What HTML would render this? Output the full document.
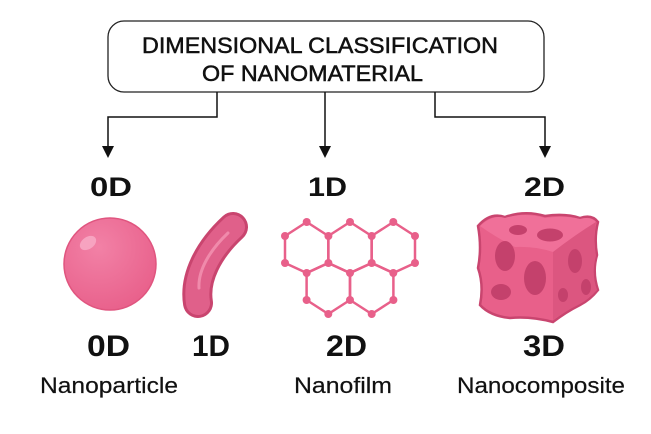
<!DOCTYPE html>
<html><head><meta charset="utf-8"><style>
html,body{margin:0;padding:0;background:#fff;}
svg{display:block;}
text{font-family:"Liberation Sans",sans-serif;fill:#111;}
</style></head><body>
<svg width="651" height="434" viewBox="0 0 651 434" xmlns="http://www.w3.org/2000/svg">
<defs>
<radialGradient id="sph" cx="0.38" cy="0.32" r="0.75">
<stop offset="0" stop-color="#f281a6"/><stop offset="1" stop-color="#e85f8a"/>
</radialGradient>
</defs>
<rect x="108" y="21" width="436" height="71" rx="16" fill="#fff" stroke="#222" stroke-width="1.3"/>
<g stroke="#111" stroke-width="0.5">
<text x="142" y="53" font-size="22" textLength="356" lengthAdjust="spacingAndGlyphs">DIMENSIONAL CLASSIFICATION</text>
<text x="202" y="81" font-size="22" textLength="221" lengthAdjust="spacingAndGlyphs">OF NANOMATERIAL</text>
</g>
<g stroke="#111" stroke-width="1.5" fill="none">
<polyline points="217,92 217,117 108,117 108,148"/>
<line x1="325" y1="92" x2="325" y2="148"/>
<polyline points="435,92 435,117 545,117 545,148"/>
</g>
<g fill="#111">
<path d="M102,146 L114,146 L108,158 Z"/>
<path d="M319,146 L331,146 L325,158 Z"/>
<path d="M539,146 L551,146 L545,158 Z"/>
</g>
<g font-weight="bold" font-size="27">
<text x="90" y="196" textLength="42" lengthAdjust="spacingAndGlyphs">0D</text>
<text x="308" y="196" textLength="39" lengthAdjust="spacingAndGlyphs">1D</text>
<text x="524" y="196" textLength="41" lengthAdjust="spacingAndGlyphs">2D</text>
<text x="87" y="356" font-size="30" textLength="43" lengthAdjust="spacingAndGlyphs">0D</text>
<text x="192" y="356" font-size="30" textLength="38" lengthAdjust="spacingAndGlyphs">1D</text>
<text x="326" y="356" font-size="30" textLength="41" lengthAdjust="spacingAndGlyphs">2D</text>
<text x="523" y="356" font-size="30" textLength="42" lengthAdjust="spacingAndGlyphs">3D</text>
</g>
<g font-size="22" stroke="#111" stroke-width="0.2">
<text x="40" y="393" textLength="138" lengthAdjust="spacingAndGlyphs">Nanoparticle</text>
<text x="294" y="393" textLength="98" lengthAdjust="spacingAndGlyphs">Nanofilm</text>
<text x="457" y="393" textLength="168" lengthAdjust="spacingAndGlyphs">Nanocomposite</text>
</g>
<!-- sphere -->
<ellipse cx="110" cy="264" rx="46" ry="46" fill="url(#sph)" stroke="#e0557f" stroke-width="1.5"/>
<ellipse cx="88" cy="243" rx="9" ry="6" fill="#f7a3c0" transform="rotate(-35 88 243)"/>
<!-- rod -->
<path d="M198,303 C194,278 208,250 233,227" stroke="#c9456f" stroke-width="30" stroke-linecap="round" fill="none"/>
<path d="M198,303 C194,278 208,250 233,227" stroke="#e0608a" stroke-width="24" stroke-linecap="round" fill="none"/>
<path d="M199,288 C198,270 210,250 228,233" stroke="#f08aab" stroke-width="3" stroke-linecap="round" fill="none"/>
<!-- hex lattice -->
<g stroke="#e8608a" stroke-width="2.5" fill="none" stroke-linejoin="round">
<polygon points="306.7,222 328.4,236 328.4,263 306.7,273 285,263 285,236"/>
<polygon points="350,222 371.7,236 371.7,263 350,273 328.3,263 328.3,236"/>
<polygon points="393.3,222 415,236 415,263 393.3,273 371.6,263 371.6,236"/>
<polygon points="328.3,263 350,273 350,300 328.3,314 306.6,300 306.6,273"/>
<polygon points="371.7,263 393.4,273 393.4,300 371.7,314 350,300 350,273"/>
</g>
<g fill="#e8608a">
<circle cx="306.7" cy="222" r="4"/><circle cx="350" cy="222" r="4"/><circle cx="393.3" cy="222" r="4"/>
<circle cx="285" cy="236" r="4"/><circle cx="328.4" cy="236" r="4"/><circle cx="371.7" cy="236" r="4"/><circle cx="415" cy="236" r="4"/>
<circle cx="285" cy="263" r="4"/><circle cx="328.4" cy="263" r="4"/><circle cx="371.7" cy="263" r="4"/><circle cx="415" cy="263" r="4"/>
<circle cx="306.7" cy="273" r="4"/><circle cx="350" cy="273" r="4"/><circle cx="393.3" cy="273" r="4"/>
<circle cx="306.6" cy="300" r="4"/><circle cx="350" cy="300" r="4"/><circle cx="393.4" cy="300" r="4"/>
<circle cx="328.3" cy="314" r="4"/><circle cx="371.7" cy="314" r="4"/>
</g>
<!-- cube -->
<path d="M478,226 Q490,212 505,217 Q525,210 545,216 Q565,213 580,218 Q592,214 598,222 Q594,238 597,255 Q592,272 598,290 Q590,300 580,305 Q566,312 553,322 Q530,316 510,318 Q490,316 480,305 Q484,285 478,268 Q482,248 478,226 Z" fill="#e8608a" stroke="#c9456f" stroke-width="2.5"/>
<path d="M480,226 Q493,214 505,218 Q525,212 545,218 Q565,215 580,219 Q590,216 596,222 Q575,235 553,252 Q535,246 515,247 Q497,238 480,226 Z" fill="#f07099"/>
<path d="M553,252 Q575,235 596,222 Q593,240 596,256 Q591,273 597,290 Q588,300 578,305 Q565,311 553,320 Z" fill="#dc5680"/>
<g fill="#c4416c">
<ellipse cx="518" cy="230" rx="9" ry="5"/>
<ellipse cx="550" cy="235" rx="13" ry="6.5"/>
<ellipse cx="505" cy="256" rx="10" ry="15"/>
<ellipse cx="535" cy="278" rx="11" ry="17"/>
<ellipse cx="501" cy="292" rx="10" ry="8"/>
<ellipse cx="575" cy="261" rx="7" ry="12"/>
<ellipse cx="586" cy="287" rx="5" ry="8"/>
<ellipse cx="563" cy="295" rx="5" ry="7"/>
</g>
</svg>
</body></html>
